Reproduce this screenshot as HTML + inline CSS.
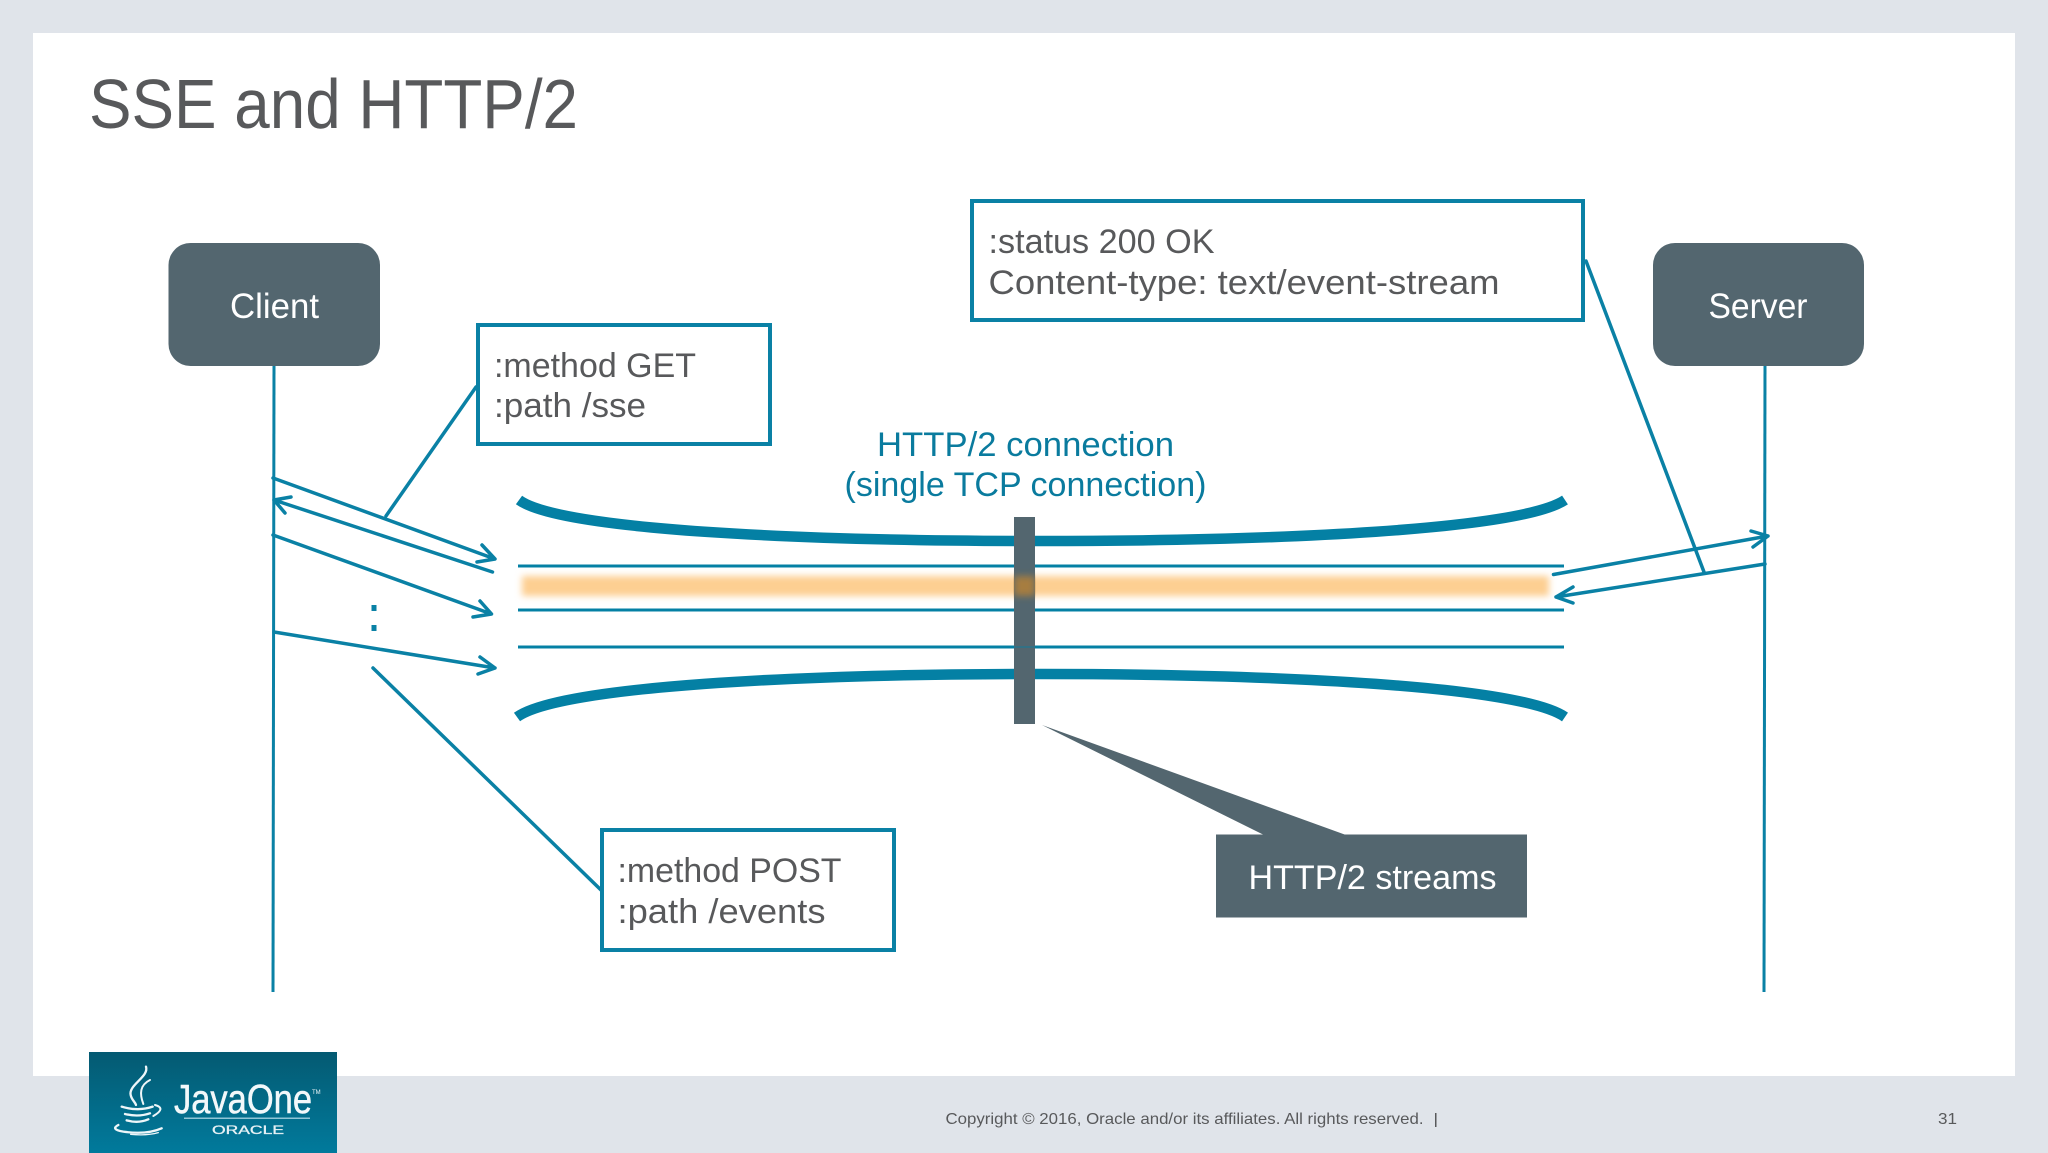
<!DOCTYPE html>
<html><head><meta charset="utf-8"><style>
html,body{margin:0;padding:0;background:#e0e4ea;width:2048px;height:1153px;overflow:hidden}
svg{display:block}
text{font-family:"Liberation Sans",sans-serif}
</style></head><body>
<svg width="2048" height="1153" viewBox="0 0 2048 1153" xmlns="http://www.w3.org/2000/svg">
<defs>
<filter id="b" x="-2%" y="-50%" width="104%" height="200%"><feGaussianBlur stdDeviation="3.5"/></filter>
<linearGradient id="g" x1="0" y1="0" x2="0" y2="1"><stop offset="0" stop-color="#045a72"/><stop offset="1" stop-color="#017a9c"/></linearGradient>
</defs>
<rect width="2048" height="1153" fill="#e0e4ea"/>
<rect x="33" y="33" width="1982" height="1043" fill="#fff"/>
<text x="89" y="128" font-size="70" fill="#58595b" textLength="489" lengthAdjust="spacingAndGlyphs">SSE and HTTP/2</text>

<!-- lifelines -->
<g stroke="#0a81a5" fill="none">
<path d="M274 366L273 992" stroke-width="3"/>
<path d="M1765 366L1764 992" stroke-width="3"/>
</g>

<!-- actors -->
<rect x="168.500" y="243" width="211.500" height="123" rx="22" fill="#53666f"/>
<rect x="1653" y="243" width="211" height="123" rx="22" fill="#53666f"/>
<text x="230" y="318" font-size="35" fill="#fff" textLength="89" lengthAdjust="spacingAndGlyphs">Client</text>
<text x="1708.500" y="318" font-size="35" fill="#fff" textLength="99" lengthAdjust="spacingAndGlyphs">Server</text>

<!-- connection curves and streams -->
<g stroke="#0480a4" fill="none">
<path d="M519 500C560 530 800 541 1040 541C1280 541 1520 530 1565 500" stroke-width="10.500"/>
<path d="M517 717C560 686 800 674 1040 674C1280 674 1520 686 1565 717" stroke-width="10.500"/>
<path d="M518 566H1564M518 610H1564M518 647H1564" stroke-width="3"/>
</g>
<rect x="522" y="576" width="1027" height="20" fill="#fdcf92" filter="url(#b)"/>
<rect x="1014" y="517" width="21" height="207" fill="#53666f"/>
<rect x="1014" y="576" width="21" height="20" fill="#a67d3f" filter="url(#b)"/>
<path d="M1014 647H1035" stroke="#0480a4" stroke-width="2" opacity=".4"/>

<!-- arrows -->
<g stroke="#0a81a5" fill="none" stroke-width="3.500" stroke-linecap="round" stroke-linejoin="round">
<path d="M273 478L495 559M482 545L495 559L477 562"/>
<path d="M492.500 572L274 500M291 497L274 500L285 513"/>
<path d="M273 535L491.500 614M480 601L491.500 614L473 617"/>
<path d="M274 632L495 668M480 657L495 668L478 674"/>
<path d="M1553.500 574.500L1768 536M1751 531L1768 536L1753 547"/>
<path d="M1765 564L1556 597M1573 587L1556 597L1573 603"/>
<path d="M476 387L386 516"/>
<path d="M373 668L601 890"/>
<path d="M1586 261L1704 572"/>
</g>
<rect x="371.500" y="605" width="5" height="6" fill="#0a81a5"/>
<rect x="371.500" y="625" width="5" height="6" fill="#0a81a5"/>

<!-- notes -->
<g fill="#fff" stroke="#0a81a5" stroke-width="4">
<rect x="478" y="325" width="292" height="119"/>
<rect x="972" y="201" width="611" height="119"/>
<rect x="602" y="830" width="292" height="120"/>
</g>
<g font-size="34" fill="#58595b">
<text x="494" y="377" textLength="202" lengthAdjust="spacingAndGlyphs">:method GET</text>
<text x="494" y="417" textLength="152" lengthAdjust="spacingAndGlyphs">:path /sse</text>
<text x="988.500" y="253" textLength="226" lengthAdjust="spacingAndGlyphs">:status 200 OK</text>
<text x="988.500" y="294" textLength="511" lengthAdjust="spacingAndGlyphs">Content-type: text/event-stream</text>
<text x="617.500" y="882" textLength="224" lengthAdjust="spacingAndGlyphs">:method POST</text>
<text x="617.500" y="923" textLength="208" lengthAdjust="spacingAndGlyphs">:path /events</text>
</g>
<g font-size="34" fill="#0a7b9e">
<text x="877" y="456" textLength="297" lengthAdjust="spacingAndGlyphs">HTTP/2 connection</text>
<text x="844.500" y="496" textLength="362" lengthAdjust="spacingAndGlyphs">(single TCP connection)</text>
</g>

<!-- streams label -->
<path d="M1042 725L1264 835L1346 835Z" fill="#53666f"/>
<rect x="1216" y="834.500" width="311" height="83" fill="#53666f"/>
<text x="1248.500" y="889" font-size="34" fill="#fff" textLength="248" lengthAdjust="spacingAndGlyphs">HTTP/2 streams</text>

<!-- footer -->
<text x="945.500" y="1124" font-size="16" fill="#58595b" textLength="478" lengthAdjust="spacingAndGlyphs">Copyright © 2016, Oracle and/or its affiliates. All rights reserved.</text>
<rect x="1435" y="1113" width="1.500" height="14" fill="#58595b"/>
<text x="1938" y="1124" font-size="16" fill="#58595b" textLength="19" lengthAdjust="spacingAndGlyphs">31</text>

<!-- logo -->
<rect x="89" y="1052" width="248" height="101" fill="url(#g)"/>
<g transform="translate(60 1030) scale(.3333)" fill="none" stroke="#eef6f9" stroke-linecap="round">
<path d="M258 110C268 140 205 165 212 195C215 210 225 215 228 225" stroke-width="7"/>
<path d="M270 150C240 165 238 190 250 222" stroke-width="6"/>
<path d="M185 230Q235 245 278 230" stroke-width="7"/>
<path d="M195 252Q235 262 270 250" stroke-width="7"/>
<path d="M200 271Q235 281 265 268" stroke-width="7"/>
<path d="M285 225Q320 235 280 258" stroke-width="6"/>
<path d="M175 285Q150 298 190 305Q260 315 305 295" stroke-width="7"/>
<path d="M212 313Q260 318 295 308" stroke-width="4"/>
</g>
<text x="174" y="1113" font-size="41" fill="#f2f8fa" stroke="#f2f8fa" stroke-width=".5" textLength="138" lengthAdjust="spacingAndGlyphs">JavaOne</text>
<text x="312" y="1094" font-size="6" fill="#f2f8fa">TM</text>
<rect x="184" y="1117.500" width="126" height="1.500" fill="#8fc5d6"/>
<text x="212" y="1134" font-size="11.500" font-weight="normal" fill="#e6f1f5" stroke="#e6f1f5" stroke-width=".3" textLength="72" lengthAdjust="spacingAndGlyphs">ORACLE</text>
</svg>
</body></html>
